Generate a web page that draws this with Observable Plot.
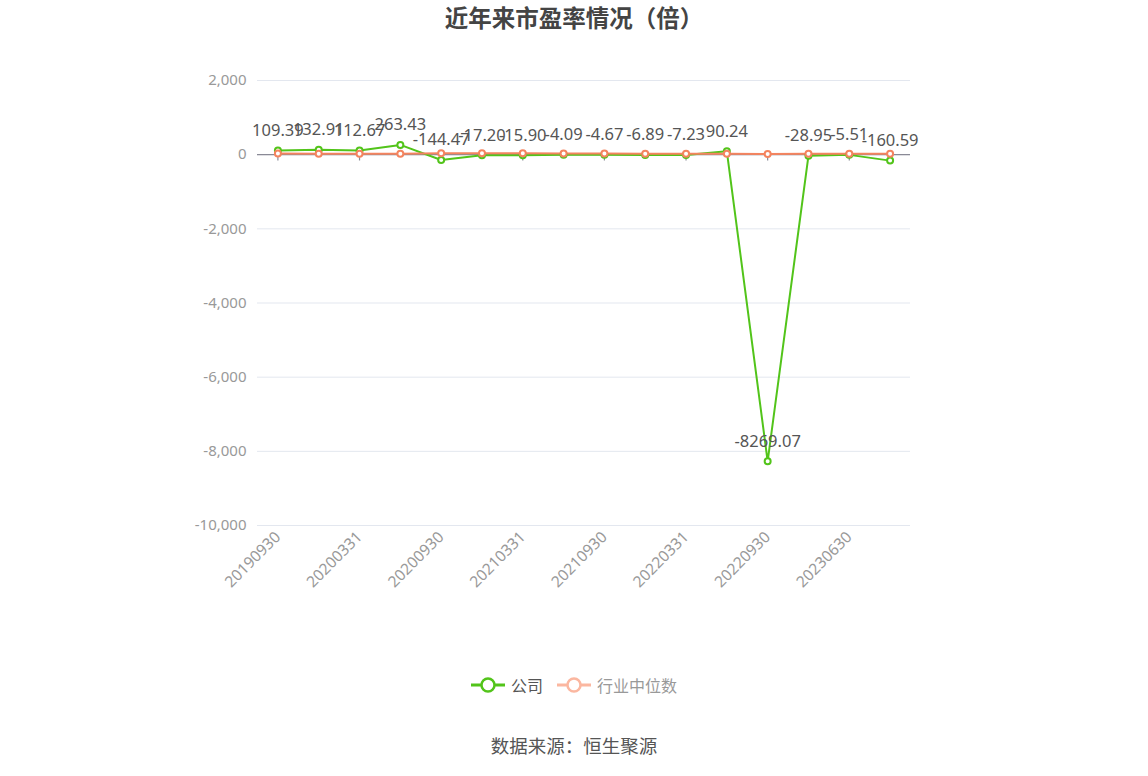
<!DOCTYPE html>
<html><head><meta charset="utf-8">
<script src="https://cdn.jsdelivr.net/npm/d3@7"></script>
<script src="https://cdn.jsdelivr.net/npm/@observablehq/plot@0.6"></script>
<style>
body{margin:0;background:#fff;font-family:"Noto Sans","Noto Sans CJK SC",sans-serif;}
#title{height:36px;line-height:34px;text-align:center;font-size:23.5px;font-weight:bold;color:#444;font-family:"Noto Sans CJK SC",sans-serif;}
#legend{height:58px;display:flex;justify-content:center;align-items:center;gap:14px;font-size:16px;font-family:"Noto Sans CJK SC",sans-serif;}
.item{display:flex;align-items:center;gap:6px;}
#source{text-align:center;font-size:18.5px;color:#555;font-family:"Noto Sans CJK SC",sans-serif;margin-top:18px;}
</style></head>
<body>
<div id="title">近年来市盈率情况（倍）</div>
<div id="chart"></div>
<div id="legend">
  <div class="item"><svg width="34" height="16"><line x1="0" y1="8" x2="34" y2="8" stroke="#52c41a" stroke-width="3"/><circle cx="17" cy="8" r="6.5" fill="#fff" stroke="#52c41a" stroke-width="2.5"/></svg><span style="color:#555">公司</span></div>
  <div class="item"><svg width="34" height="16"><line x1="0" y1="8" x2="34" y2="8" stroke="#fbb7a0" stroke-width="3"/><circle cx="17" cy="8" r="6.5" fill="#fff" stroke="#fbb7a0" stroke-width="2.5"/></svg><span style="color:#999">行业中位数</span></div>
</div>
<div id="source">数据来源：恒生聚源</div>
<script>
const dates = ["20190930","20191231","20200331","20200630","20200930","20201231","20210331","20210630","20210930","20211231","20220331","20220630","20220930","20221231","20230630","20230930"];
const company = [109.39,132.91,112.67,263.43,-144.47,-17.20,-15.90,-4.09,-4.67,-6.89,-7.23,90.24,-8269.07,-28.95,-5.51,-160.59];
const industry = [30,28,26,25,35,38,36,32,30,28,25,22,20,22,24,25];
const tickLabels = ["20190930","20200331","20200930","20210331","20210930","20220331","20220930","20230630"];
const yTicks = [2000,0,-2000,-4000,-6000,-8000,-10000];

const comp = dates.map((d,i)=>({date:d, v:company[i]}));
const ind = dates.map((d,i)=>({date:d, v:industry[i]}));
const fmt = d => d.toLocaleString("en-US");

const green = "#52c41a", orange = "#f4845f";

const chart = Plot.plot({
  width: 1148,
  height: 620,
  marginTop: 44,
  marginBottom: 131,
  marginLeft: 257,
  marginRight: 238,
  style: {fontFamily: '"Noto Sans", sans-serif', fontSize: "15px", color: "#999", background: "#fff"},
  x: {type: "band", domain: dates, padding: 0, align: 0.5, round: false, label: null},
  y: {domain: [-10000, 2000], label: null},
  marks: [
    Plot.gridY(yTicks, {stroke: "#e3e7ef", strokeOpacity: 1, strokeWidth: 1}),
    Plot.axisY(yTicks, {tickSize: 0, tickPadding: 11, tickFormat: fmt, fill: "#999", fontSize: 15, label: null}),
    Plot.axisX(tickLabels, {tickSize: 0, tickRotate: -45, tickPadding: 9, fill: "#999", fontSize: 15.5, label: null}),
    Plot.ruleY([0], {stroke: "#8a8a96", strokeWidth: 1.2}),
    Plot.ruleX(tickLabels, {x: d => d, y1: 0, y2: -170, stroke: "#8a8a96", strokeWidth: 1.2}),
    Plot.line(comp, {x: "date", y: "v", stroke: green, strokeWidth: 2}),
    Plot.line(ind, {x: "date", y: "v", stroke: orange, strokeWidth: 2}),
    Plot.dot(comp, {x: "date", y: "v", r: 3, fill: "#fff", stroke: green, strokeWidth: 2}),
    Plot.dot(ind, {x: "date", y: "v", r: 3, fill: "#fff", stroke: orange, strokeWidth: 2}),
    Plot.text(comp, {x: "date", y: "v", text: d => d.v.toFixed(2), dy: -20, fill: "#555", fontSize: 16.5})
  ]
});
document.getElementById("chart").appendChild(chart);
</script>
</body></html>
